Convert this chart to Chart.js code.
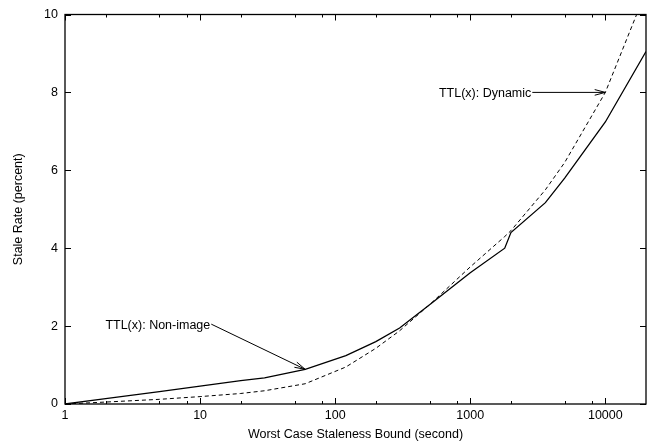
<!DOCTYPE html>
<html>
<head>
<meta charset="utf-8">
<script src="https://cdn.jsdelivr.net/npm/chart.js@4.4.1/dist/chart.umd.min.js"></script>
<style>
  html, body { margin: 0; padding: 0; background: #fff; }
  #wrap { width: 649px; height: 445px; }
</style>
</head>
<body>
<div id="wrap"><canvas id="staleChart" width="649" height="445"></canvas></div>
<script>
// staleness bound (seconds)
const staleBounds = [1, 2, 5, 10, 20, 30, 60, 120, 200, 300, 500, 1000, 1800, 2000, 3600, 5000, 10000, 20000];
// stale rate (percent)
const nonImageRates = [0, 0.14, 0.32, 0.46, 0.6, 0.67, 0.89, 1.24, 1.6, 1.95, 2.55, 3.37, 4.0, 4.4, 5.17, 5.8, 7.24, 9.05];
const dynamicRates = [0, 0.05, 0.12, 0.19, 0.27, 0.34, 0.52, 0.95, 1.43, 1.88, 2.55, 3.52, 4.3, 4.45, 5.5, 6.2, 8.0, 10.6];

const xMajorTicks = [1, 10, 100, 1000, 10000];
const xMinorTicks = [2, 5, 8, 20, 50, 80, 200, 500, 800, 2000, 5000, 8000];
const yTicks = [0, 2, 4, 6, 8, 10];

// labels with arrows: [text, from x, from y, to x, to y]
const notes = [
  ['TTL(x): Non-image', 12.1, 2.05, 60, 0.89],
  ['TTL(x): Dynamic', 2880, 8.0, 10000, 8.0]
];

const FONT = '"Liberation Sans", Arial, Helvetica, sans-serif';

function toPoints(xs, ys) {
  return xs.map((x, i) => ({ x: x, y: ys[i] }));
}

// frame, inward ticks on all sides, and the arrow labels
const gnuplotLook = {
  id: 'gnuplotLook',
  afterDatasetsDraw(chart) {
    const ctx = chart.ctx;
    const a = chart.chartArea;
    const xs = chart.scales.x, ys = chart.scales.y;
    ctx.save();
    ctx.strokeStyle = '#000';
    ctx.lineWidth = 1;
    ctx.beginPath();
    xMajorTicks.forEach(v => {
      const px = Math.round(xs.getPixelForValue(v)) + 0.5;
      ctx.moveTo(px, a.bottom); ctx.lineTo(px, a.bottom - 6);
      ctx.moveTo(px, a.top); ctx.lineTo(px, a.top + 6);
    });
    xMinorTicks.forEach(v => {
      const px = Math.round(xs.getPixelForValue(v)) + 0.5;
      ctx.moveTo(px, a.bottom); ctx.lineTo(px, a.bottom - 3);
      ctx.moveTo(px, a.top); ctx.lineTo(px, a.top + 3);
    });
    yTicks.forEach(v => {
      const py = Math.round(ys.getPixelForValue(v)) + 0.5;
      ctx.moveTo(a.left, py); ctx.lineTo(a.left + 6, py);
      ctx.moveTo(a.right, py); ctx.lineTo(a.right - 6, py);
    });
    ctx.stroke();
    ctx.lineWidth = 1.3;
    ctx.strokeRect(a.left, a.top, a.right - a.left, a.bottom - a.top);

    ctx.lineWidth = 1;
    ctx.fillStyle = '#000';
    ctx.font = '12.5px ' + FONT;
    ctx.textAlign = 'right';
    ctx.textBaseline = 'middle';
    notes.forEach(n => {
      const x0 = xs.getPixelForValue(n[1]), y0 = ys.getPixelForValue(n[2]);
      const x1 = xs.getPixelForValue(n[3]), y1 = ys.getPixelForValue(n[4]);
      ctx.fillText(n[0], x0 - 1, ys.getPixelForValue(n[2]) + 1);
      ctx.beginPath();
      ctx.moveTo(x0, y0); ctx.lineTo(x1, y1);
      const ang = Math.atan2(y1 - y0, x1 - x0);
      const len = 11, spread = 0.26;
      ctx.moveTo(x1 - len * Math.cos(ang - spread), y1 - len * Math.sin(ang - spread));
      ctx.lineTo(x1, y1);
      ctx.lineTo(x1 - len * Math.cos(ang + spread), y1 - len * Math.sin(ang + spread));
      ctx.stroke();
    });
    ctx.restore();
  }
};

new Chart(document.getElementById('staleChart').getContext('2d'), {
  type: 'scatter',
  data: {
    datasets: [
      {
        label: 'TTL(x): Non-image',
        data: toPoints(staleBounds, nonImageRates),
        showLine: true,
        borderColor: '#000',
        borderWidth: 1.3,
        pointRadius: 0,
        tension: 0
      },
      {
        label: 'TTL(x): Dynamic',
        data: toPoints(staleBounds, dynamicRates),
        showLine: true,
        borderColor: '#000',
        borderWidth: 1,
        borderDash: [4, 3],
        pointRadius: 0,
        tension: 0
      }
    ]
  },
  options: {
    responsive: false,
    animation: false,
    layout: { padding: { left: 0, right: 3, top: 14, bottom: 0 } },
    plugins: {
      legend: { display: false },
      tooltip: { enabled: false }
    },
    scales: {
      x: {
        type: 'logarithmic',
        min: 1,
        max: 20000,
        grid: { display: false, drawTicks: false },
        border: { display: false },
        afterBuildTicks: scale => { scale.ticks = xMajorTicks.map(v => ({ value: v })); },
        afterFit: scale => { scale.height = 41; },
        ticks: {
          color: '#000',
          padding: 4,
          maxRotation: 0,
          font: { family: FONT, size: 12.5 },
          callback: v => String(v)
        },
        title: {
          display: true,
          text: 'Worst Case Staleness Bound (second)',
          color: '#000',
          padding: { top: 0, bottom: 2.5 },
          font: { family: FONT, size: 12.5 }
        }
      },
      y: {
        min: 0,
        max: 10,
        grid: { display: false, drawTicks: false },
        border: { display: false },
        afterBuildTicks: scale => { scale.ticks = yTicks.map(v => ({ value: v })); },
        afterFit: scale => { scale.width = 65; },
        ticks: {
          color: '#000',
          padding: 7,
          font: { family: FONT, size: 12.5 }
        },
        title: {
          display: true,
          text: 'Stale Rate (percent)',
          color: '#000',
          padding: { top: 11.5, bottom: 0 },
          font: { family: FONT, size: 12.5 }
        }
      }
    }
  },
  plugins: [gnuplotLook]
});
</script>
</body>
</html>
